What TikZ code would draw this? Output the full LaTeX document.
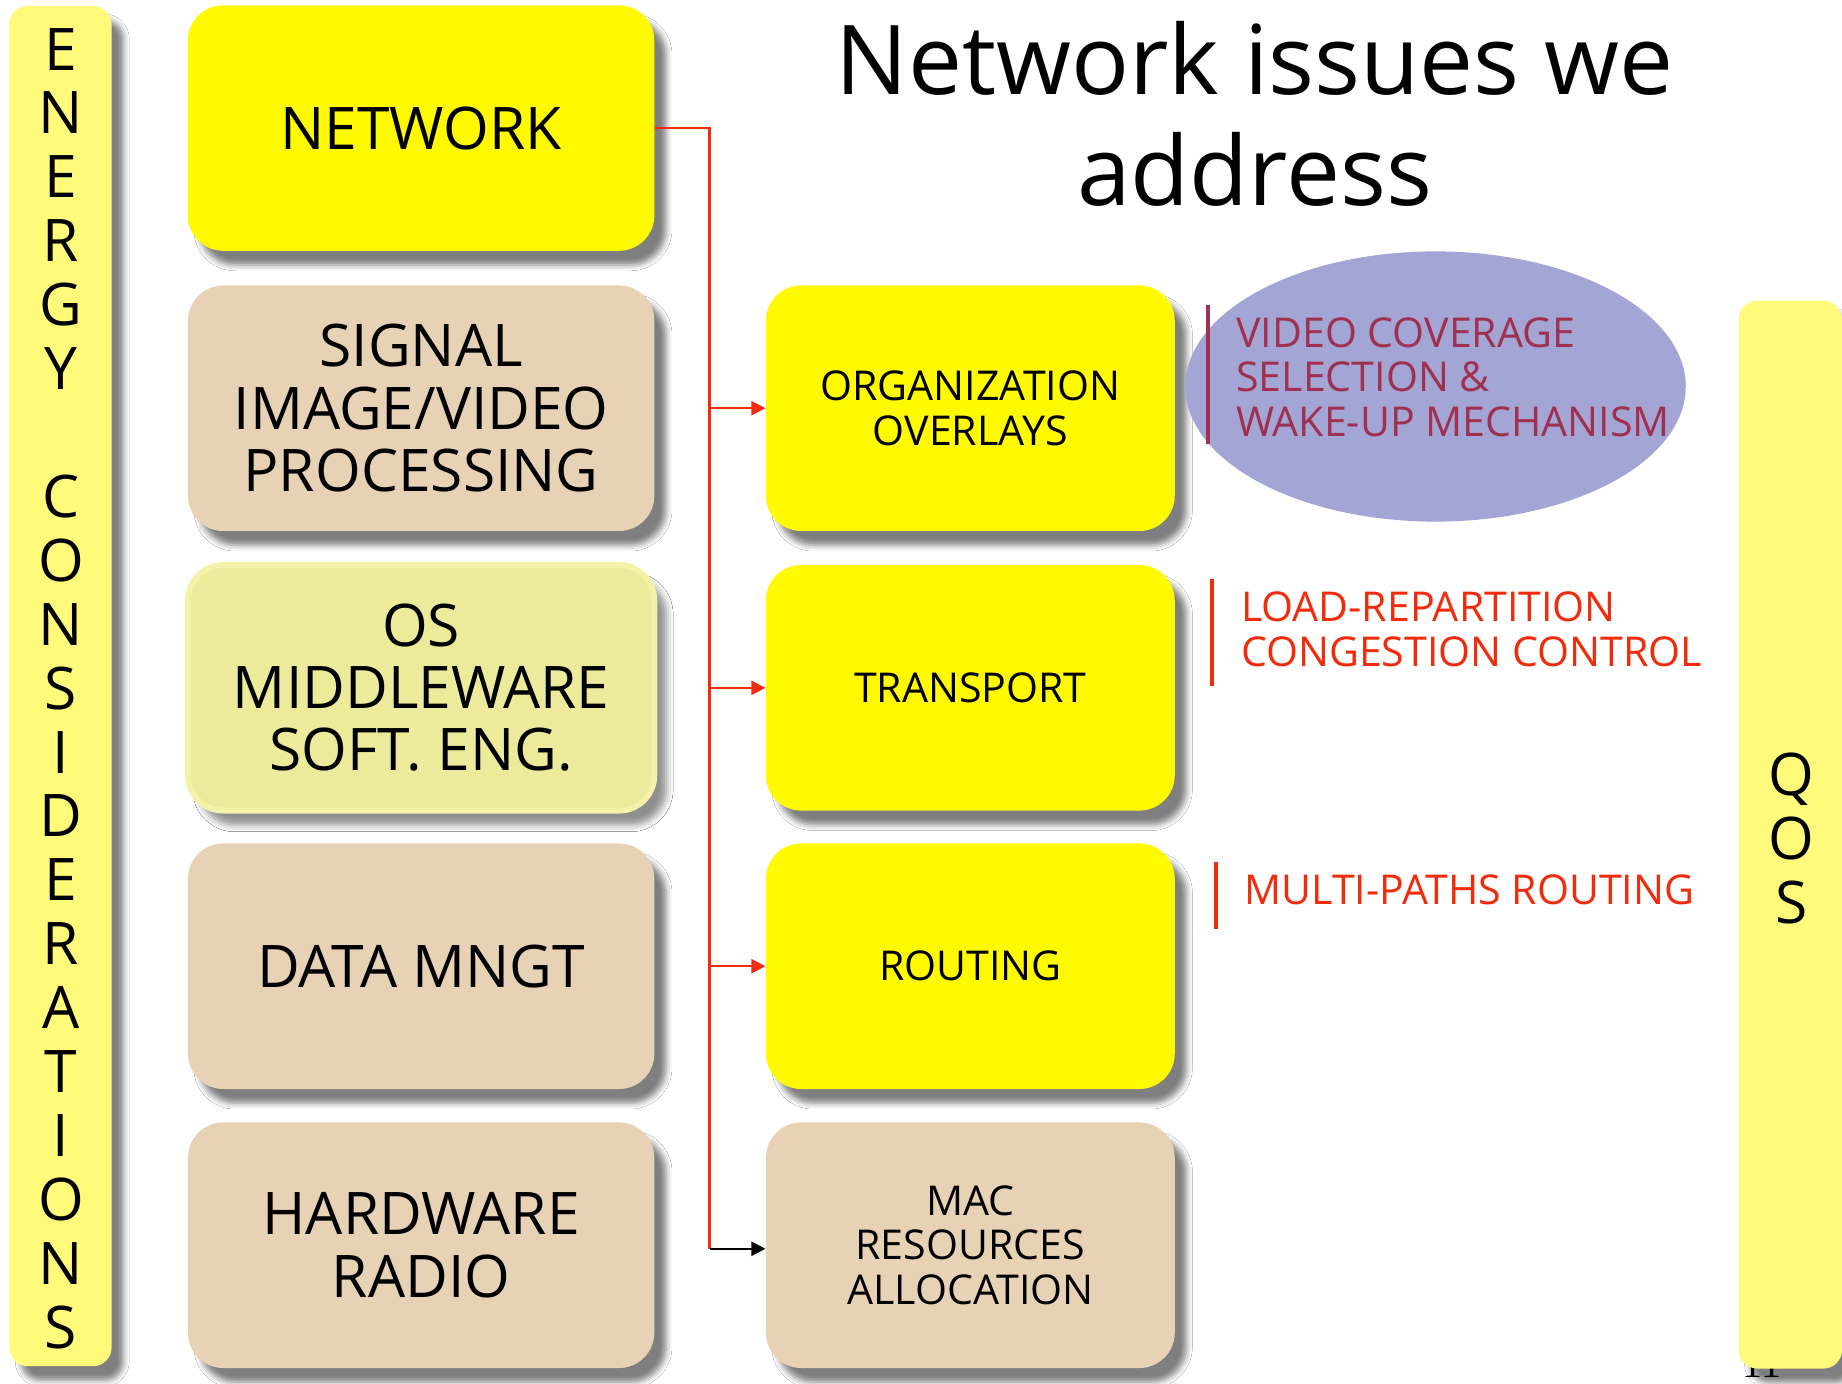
\documentclass[tikz,border=0pt]{standalone}
\usepackage{fontspec}
\setmainfont{Open Sans}
\newfontfamily\numfont{Liberation Serif}
\usetikzlibrary{shadows.blur,arrows.meta}

\definecolor{boxyellow}{RGB}{255,250,0}
\definecolor{boxbeige}{RGB}{232,210,181}
\definecolor{boxpale}{RGB}{236,235,155}
\definecolor{paleedge}{RGB}{243,242,168}
\definecolor{barcol}{RGB}{255,250,122}
\definecolor{ovalcol}{RGB}{163,165,213}
\definecolor{wine}{RGB}{160,48,80}
\definecolor{alertred}{RGB}{240,44,12}

\begin{document}
\begin{tikzpicture}[x=0.5pt,y=-0.5pt,
  softshadow/.style={blur shadow={shadow xshift=5pt,shadow yshift=-6pt,shadow blur radius=2.5pt,shadow opacity=50}},
  card/.style={rounded corners=15pt,minimum width=198.5pt,minimum height=104.5pt,
    inner sep=0pt,align=center,softshadow},
  bigcard/.style={card,font=\fontsize{25}{26.5}\selectfont},
  smallcard/.style={card,minimum width=174pt,font=\fontsize{17.5}{19}\selectfont},
  sidebar/.style={rounded corners=8pt,fill=barcol,inner sep=0pt,softshadow},
  stack/.style={align=center,inner sep=0pt,font=\fontsize{25}{27.2}\selectfont},
  note/.style={align=left,anchor=west,inner sep=0pt,font=\fontsize{17.5}{19}\selectfont},
  notebar/.style={line width=1.6pt},
  feed/.style={draw=alertred,line width=0.9pt},
  feedarrow/.style={feed,-{Triangle[length=6pt,width=6pt]}},
  plainarrow/.style={draw=black,line width=0.9pt,-{Triangle[length=6pt,width=6pt]}}
]
\useasboundingbox (0,0) rectangle (1568,1178);
\fill[white] (0,0) rectangle (1568,1178);

% slide number, mostly hidden behind the QoS bar
\node[font=\numfont\fontsize{17}{17}\selectfont,anchor=base,inner sep=0pt] (pagenum) at (1500,1173) {11};

% side bars
\node[sidebar,minimum width=43.5pt,minimum height=579pt] (energy) at (51.5,584) {};
\node[stack] (energytext) at (52,586) {E\\N\\E\\R\\G\\Y\\[27.2pt]C\\O\\N\\S\\I\\D\\E\\R\\A\\T\\I\\O\\N\\S};
\node[sidebar,minimum width=44pt,minimum height=454.5pt] (qos) at (1524,710.5) {};
\node[stack] (qostext) at (1525,714) {Q\\O\\S};

% title
\node[align=center,inner sep=0pt,font=\fontsize{41}{47}\selectfont] (title) at (1068,97) {Network issues we\\address};

% left column
\node[bigcard,fill=boxyellow] (net) at (358.5,109) {NETWORK};
\node[bigcard,fill=boxbeige] (sig) at (358.5,347.5) {SIGNAL\\IMAGE/VIDEO\\PROCESSING};
\node[bigcard,fill=boxpale,draw=paleedge,line width=2.5pt,
  blur shadow={shadow xshift=5pt,shadow yshift=-6pt,shadow blur radius=3pt,shadow opacity=25}] (os) at (358.5,585.5) {OS\\MIDDLEWARE\\SOFT. ENG.};
\node[bigcard,fill=boxbeige] (data) at (358.5,822.5) {DATA MNGT};
\node[bigcard,fill=boxbeige] (hw) at (358.5,1060) {HARDWARE\\RADIO};

% network layers
\node[smallcard,fill=boxyellow] (org) at (826,347.5) {ORGANIZATION\\OVERLAYS};
\node[smallcard,fill=boxyellow] (trans) at (826,585.5) {TRANSPORT};
\node[smallcard,fill=boxyellow] (rout) at (826,822.5) {ROUTING};
\node[smallcard,fill=boxbeige] (mac) at (826,1060) {MAC\\RESOURCES\\ALLOCATION};

% connectors from NETWORK to the layers
\coordinate (trunkend) at (604,1063);
\draw[feed] (net.east) -- (net.east -| trunkend) -- (trunkend);
\draw[feedarrow] (trunkend |- org.west) -- (org.west);
\draw[feedarrow] (trunkend |- trans.west) -- (trans.west);
\draw[feedarrow] (trunkend |- rout.west) -- (rout.west);
\draw[plainarrow] (trunkend) -- (trunkend -| mac.west);

% issues per layer
\fill[ovalcol] (1222,329) ellipse [x radius=213,y radius=115];
\draw[notebar,draw=wine] (1028,260) -- (1028,378);
\node[note,text=wine] (video) at (1052,321) {VIDEO COVERAGE\\SELECTION \&\\WAKE-UP MECHANISM};
\draw[notebar,draw=alertred] (1032,493) -- (1032,584);
\node[note,text=alertred] (load) at (1056,535.5) {LOAD-REPARTITION\\CONGESTION CONTROL};
\draw[notebar,draw=alertred] (1035,734) -- (1035,791);
\node[note,text=alertred] (multi) at (1059,757) {MULTI-PATHS ROUTING};
\end{tikzpicture}
\end{document}
